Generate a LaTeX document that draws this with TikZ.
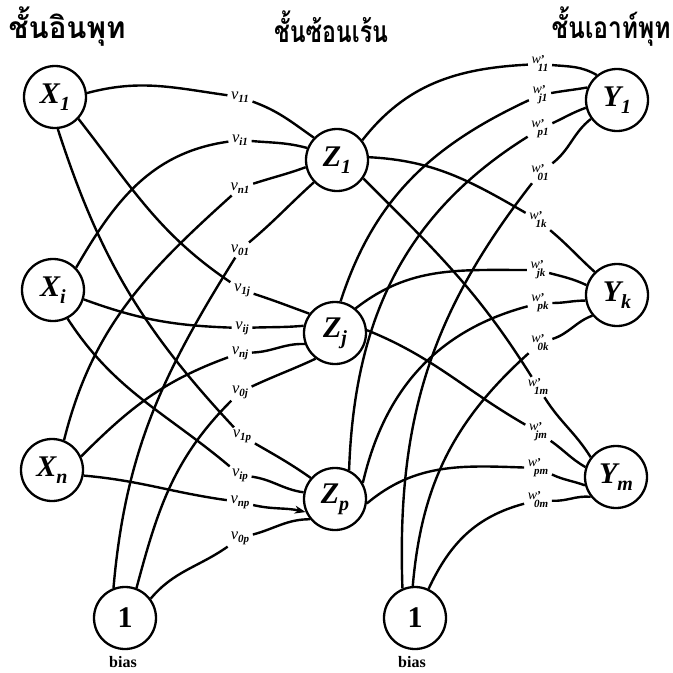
\documentclass[tikz,border=0pt]{standalone}
\usepackage{fontspec}
\usepackage{graphicx}
\setmainfont{Liberation Serif}
\newfontfamily\thaifont[Script=Thai]{Loma}
\usetikzlibrary{arrows.meta}
\newcommand{\nlab}[2]{{\fontsize{30}{30}\selectfont\bfseries\itshape #1}\raisebox{-7pt}{\fontsize{20}{20}\selectfont\bfseries\itshape #2}}
\newcommand{\vlab}[1]{{\fontsize{16.5}{17}\selectfont\itshape v}\raisebox{-3pt}{\fontsize{11}{11}\selectfont\bfseries\itshape #1}}
\newcommand{\wlab}[1]{{\fontsize{14}{14}\selectfont\itshape w}{\fontsize{12}{12}\selectfont\bfseries ’}\hspace{-7pt}\raisebox{-8pt}{\fontsize{11}{11}\selectfont\bfseries\itshape #1}}
\newcommand{\headtext}[2]{\resizebox{#1}{\height}{#2}}
\begin{document}
\begin{tikzpicture}[x=1pt,y=1pt,
  unit/.style={circle,draw,line width=2.3pt,minimum size=62pt,inner sep=0pt},
  elab/.style={inner xsep=3.5pt,inner ysep=2pt},
  conn/.style={line width=2.4pt},
  head/.style={font=\thaifont\bfseries\fontsize{30}{32}\selectfont},
  biaslab/.style={font=\bfseries\fontsize{16}{16}\selectfont}]
\useasboundingbox (0,0) rectangle (673,-673);
% headings
\node[head] (h1) at (67,-27) {\headtext{117pt}{ชั้นอินพุท}};
\node[head] (h2) at (331,-27) {\headtext{114pt}{ชั้นซ้อนเร้น}};
\node[head] (h3) at (611,-27) {\headtext{119pt}{ชั้นเอาท์พุท}};
% units
\node[unit] (X1) at (55,-97) {\nlab{X}{1}};
\node[unit] (Xi) at (53,-290) {\nlab{X}{i}};
\node[unit] (Xn) at (52,-470) {\nlab{X}{n}};
\node[unit] (Z1) at (337,-160) {\nlab{Z}{1}};
\node[unit] (Zj) at (335,-333) {\nlab{Z}{j}};
\node[unit] (Zp) at (335,-499) {\nlab{Z}{p}};
\node[unit] (Y1) at (617,-100) {\nlab{Y}{1}};
\node[unit] (Yk) at (617,-295) {\nlab{Y}{k}};
\node[unit] (Ym) at (616,-477) {\nlab{Y}{m}};
\node[unit] (B1) at (125,-618) {\fontsize{30}{30}\selectfont\bfseries 1};
\node[unit] (B2) at (415,-618) {\fontsize{30}{30}\selectfont\bfseries 1};
\node[biaslab] (b1) at (123,-662) {bias};
\node[biaslab] (b2) at (412,-662) {bias};
% v labels
\node[elab] (v11) at (240,-97) {\vlab{11}};
\node[elab] (vi1) at (240,-140) {\vlab{i1}};
\node[elab] (vn1) at (240,-188) {\vlab{n1}};
\node[elab] (v01) at (240,-250) {\vlab{01}};
\node[elab] (v1j) at (242,-290) {\vlab{1j}};
\node[elab] (vij) at (242,-328) {\vlab{ij}};
\node[elab] (vnj) at (240,-353) {\vlab{nj}};
\node[elab] (v0j) at (240,-392) {\vlab{0j}};
\node[elab] (v1p) at (242,-436) {\vlab{1p}};
\node[elab] (vip) at (240,-475) {\vlab{ip}};
\node[elab] (vnp) at (240,-502) {\vlab{np}};
\node[elab] (v0p) at (240,-538) {\vlab{0p}};
% w labels
\node[elab] (w11) at (540,-64) {\wlab{11}};
\node[elab] (wj1) at (540,-95) {\wlab{j1}};
\node[elab] (wp1) at (540,-129) {\wlab{p1}};
\node[elab] (w01) at (540,-173) {\wlab{01}};
\node[elab] (w1k) at (538,-220) {\wlab{1k}};
\node[elab] (wjk) at (538,-270) {\wlab{jk}};
\node[elab] (wpk) at (540,-303) {\wlab{pk}};
\node[elab] (w0k) at (540,-343) {\wlab{0k}};
\node[elab] (w1m) at (538,-387) {\wlab{1m}};
\node[elab] (wjm) at (538,-432) {\wlab{jm}};
\node[elab] (wpm) at (538,-468) {\wlab{pm}};
\node[elab] (w0m) at (538,-500) {\wlab{0m}};
% input -> hidden
\draw[conn] (X1.7) to[out=15,in=172] (v11);
\draw[conn] (v11) to[out=-20,in=145] (Z1.136);
\draw[conn] (Xi.44) to[out=60,in=188] (vi1);
\draw[conn] (vi1) to[out=-5,in=165] (Z1.158);
\draw[conn] (Xn.68) to[out=76,in=222] (vn1);
\draw[conn] (vn1) to[out=18,in=200] (Z1.193);
\draw[conn] (B1.111) to[out=85,in=238] (v01);
\draw[conn] (v01) to[out=40,in=222] (Z1.224);
\draw[conn] (X1.-43) to[out=-52,in=146] (v1j);
\draw[conn] (v1j) to[out=-18,in=160] (Zj.143);
\draw[conn] (Xi.-17) to[out=-20,in=178] (vij);
\draw[conn] (vij) to[out=2,in=185] (Zj.167);
\draw[conn] (Xn.25) to[out=45,in=200] (vnj);
\draw[conn] (vnj) to[out=2,in=178] (Zj.200);
\draw[conn] (B1.69) to[out=75,in=225] (v0j);
\draw[conn] (v0j) to[out=25,in=205] (Zj.233);
\draw[conn] (X1.-85) to[out=-72,in=133] (v1p);
\draw[conn] (v1p) to[out=-30,in=145] (Zp.139);
\draw[conn] (Xi.-63) to[out=-57,in=140] (vip);
\draw[conn] (vip) to[out=-8,in=172] (Zp.168);
\draw[conn] (Xn.-10) to[out=-5,in=172] (vnp);
\draw[conn,-{Stealth[length=11pt,width=8pt]}] (vnp) to[out=-13,in=167] (Zp.204);
\draw[conn] (B1.37) to[out=50,in=215] (v0p);
\draw[conn] (v0p) to[out=15,in=180] (Zp.219);
% hidden -> output
\draw[conn] (Z1.38) to[out=52,in=183] (w11);
\draw[conn] (w11) to[out=-5,in=150] (Y1.129);
\draw[conn] (Zj.80) to[out=72,in=205] (wj1);
\draw[conn] (wj1) to[out=10,in=190] (Y1.157);
\draw[conn] (Zp.64) to[out=88,in=212] (wp1);
\draw[conn] (wp1) to[out=25,in=200] (Y1.194);
\draw[conn] (B2.113) to[out=92,in=232] (w01);
\draw[conn] (w01) to[out=38,in=218] (Y1.216);
\draw[conn] (Z1.5) to[out=-3,in=150] (w1k);
\draw[conn] (w1k) to[out=-40,in=138] (Yk.134);
\draw[conn] (Zj.50) to[out=38,in=180] (wjk);
\draw[conn] (wjk) to[out=-15,in=155] (Yk.162);
\draw[conn] (Zp.30) to[out=77,in=195] (wpk);
\draw[conn] (wpk) to[out=0,in=180] (Yk.190);
\draw[conn] (B2.94) to[out=85,in=222] (w0k);
\draw[conn] (w0k) to[out=18,in=200] (Yk.220);
\draw[conn] (Z1.-35) to[out=-45,in=122] (w1m);
\draw[conn] (w1m) to[out=-58,in=122] (Ym.142);
\draw[conn] (Zj.5) to[out=-22,in=150] (wjm);
\draw[conn] (wjm) to[out=-35,in=150] (Ym.162);
\draw[conn] (Zp.-8) to[out=40,in=178] (wpm);
\draw[conn] (wpm) to[out=-25,in=160] (Ym.195);
\draw[conn] (B2.65) to[out=65,in=195] (w0m);
\draw[conn] (w0m) to[out=-3,in=175] (Ym.218);
\end{tikzpicture}
\end{document}
